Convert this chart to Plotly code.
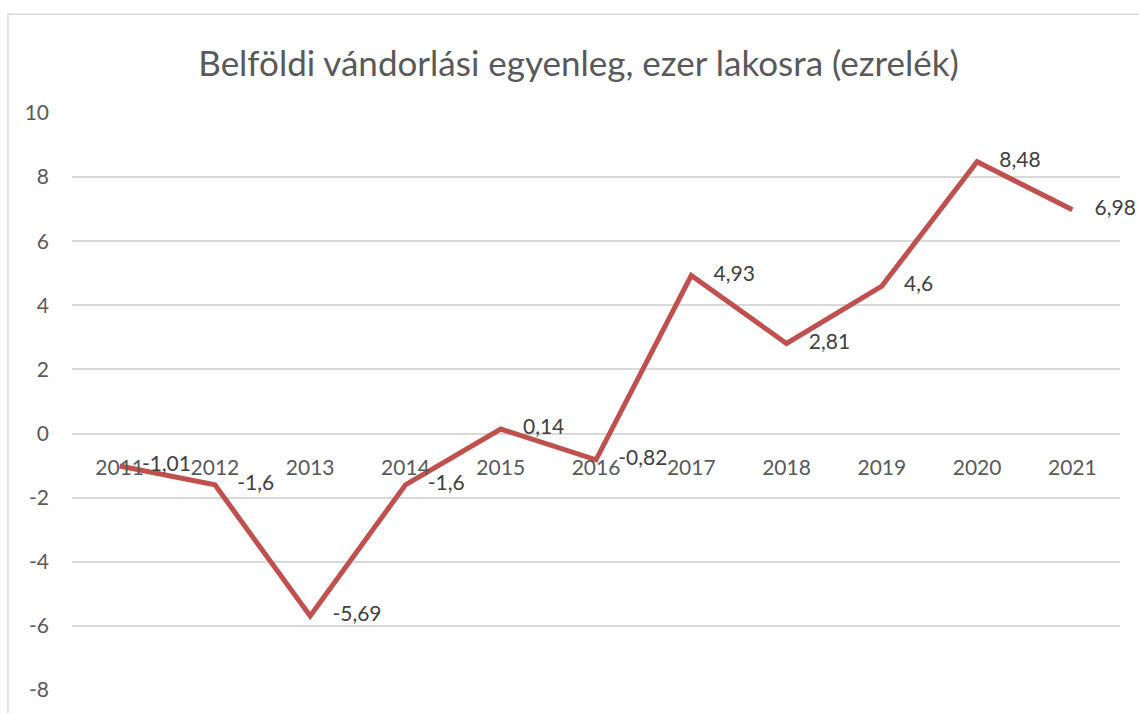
import plotly.graph_objects as go

years = ["2011", "2012", "2013", "2014", "2015", "2016", "2017", "2018", "2019", "2020", "2021"]
balance = [-1.01, -1.6, -5.69, -1.6, 0.14, -0.82, 4.93, 2.81, 4.6, 8.48, 6.98]
y_ticks = [-8, -6, -4, -2, 0, 2, 4, 6, 8, 10]

labels = [str(v).replace(".", ",") for v in balance]

FONT = "Lato"
GREY = "#595959"
GRID = "#D9D9D9"

fig = go.Figure()
fig.add_trace(go.Scatter(
    x=years, y=balance,
    mode="lines+markers+text",
    line=dict(color="#C0504D", width=5),
    marker=dict(size=34, color="rgba(0,0,0,0)"),
    text=labels,
    textposition="middle right",
    textfont=dict(family=FONT, size=21, color="#404040"),
    hoverinfo="skip",
    cliponaxis=False,
))

# y=0 sits at (0 - -8) / 18 of the plot height
zero_pos = 8 / 18

fig.update_layout(
    width=1139, height=713,
    margin=dict(l=72, r=19, t=113, b=21),
    paper_bgcolor="white", plot_bgcolor="white",
    showlegend=False,
    title=dict(text="Belföldi vándorlási egyenleg, ezer lakosra (ezrelék)",
               x=0.508, xanchor="center", y=0.911, yanchor="middle",
               font=dict(family=FONT, size=35, color=GREY)),
    xaxis=dict(type="category", range=[-0.5, 10.5], showgrid=False, showline=False,
               ticks="", anchor="free", position=zero_pos, ticklabelstandoff=19,
               tickfont=dict(family=FONT, size=21, color=GREY), fixedrange=True),
    yaxis=dict(range=[-8, 10], tickvals=y_ticks, ticktext=[str(t) for t in y_ticks],
               showgrid=True, gridcolor=GRID, gridwidth=1.5,
               zeroline=True, zerolinecolor=GRID, zerolinewidth=1.5, showline=False,
               ticks="", ticklabelstandoff=22,
               tickfont=dict(family=FONT, size=21, color=GREY), fixedrange=True),
    shapes=[dict(type="rect", xref="paper", yref="paper",
                 x0=-0.0611, y0=-0.3, x1=1.2, y1=1.171,
                 line=dict(color=GRID, width=1.5), fillcolor="rgba(0,0,0,0)", layer="below")],
)

fig.write_html("out.html", config={"displayModeBar": False},
               post_script="document.body.style.margin='0';")
